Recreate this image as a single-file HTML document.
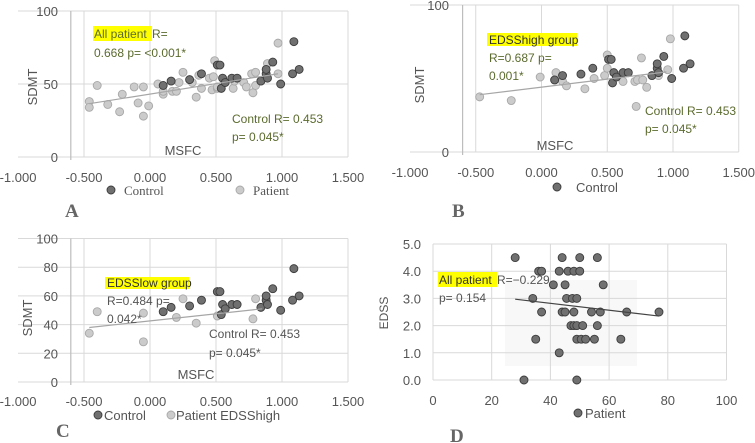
<!DOCTYPE html>
<html><head><meta charset="utf-8"><style>
body{margin:0;background:#fff}
svg{display:block;font-family:"Liberation Sans",sans-serif}
</style></head><body>
<svg id="fig" width="755" height="443" viewBox="0 0 755 443" xmlns="http://www.w3.org/2000/svg"></svg>
<script>
// ---- data ----
const controlX=[0.10,0.16,0.30,0.39,0.51,0.53,0.55,0.54,0.57,0.62,0.66,0.84,0.88,0.88,0.89,0.93,0.99,1.08,1.09,1.13];
const controlY=[49,52,53,57,63,63,54,47,51,54,54,52,57,60,54,65,50,57,79,60];
const patientAX=[-0.46,-0.46,-0.40,-0.32,-0.23,-0.21,-0.12,-0.09,-0.05,-0.05,-0.01,0.06,0.10,0.10,0.17,0.20,0.22,0.25,0.32,0.35,0.37,0.39,0.45,0.47,0.48,0.49,0.51,0.51,0.63,0.64,0.71,0.73,0.77,0.78,0.80,0.80,0.89,0.97,0.97];
const patientAY=[38,34,49,36,31,43,48,37,48,28,35,50,43,45,45,45,51,58,51,41,56,47,54,46,55,66,47,48,47,52,51,48,57,44,58,49,64,57,78];
const patientBX=[-0.47,-0.23,-0.01,0.11,0.10,0.16,0.19,0.33,0.40,0.48,0.50,0.50,0.58,0.62,0.71,0.73,0.76,0.77,0.80,0.72,0.89,0.96,0.98];
const patientBY=[37.5,35,51,54,49,48,45,43,50,52,66,57,52,48,48,49,64,49,44,31,52,56,77];
const patientCX=[-0.46,-0.40,-0.05,-0.05,0.20,0.25,0.35,0.51,0.78,0.80];
const patientCY=[34,49,48,28,45,58,41,46,44,58];
const trendA=[[-0.46,36.5],[0.97,57]];
const trendB=[[-0.47,39],[0.95,54.5]];
const trendC=[[-0.46,38],[0.85,51]];
const patientDX=[28,44,50,56,36,37,43,46,48,50,41,45,58,34,45.5,47.5,49,37,44,45,48,54,57,66,77,47,48,49,51,56,35,49,50.5,52,55,64,43,31,49];
const patientDY=[4.5,4.5,4.5,4.5,4,4,4,4,4,4,3.5,3.5,3.5,3,3,3,3,2.5,2.5,2.5,2.5,2.5,2.5,2.5,2.5,2,2,2,2,2,1.5,1.5,1.5,1.5,1.5,1.5,1,0,0];
const trendD=[[28,2.97],[77,2.35]];
const msfcTicks=["-1.000","-0.500","0.000","0.500","1.000","1.500"];
const msfcTickVals=[-1,-0.5,0,0.5,1,1.5];
// ----
const NS="http://www.w3.org/2000/svg";
const svg=document.getElementById('fig');
function mk(tag,attrs,parent,text){const e=document.createElementNS(NS,tag);for(const k in attrs)e.setAttribute(k,attrs[k]);if(text!==undefined)e.textContent=text;(parent||svg).appendChild(e);return e;}
function grp(name){const g=mk('g',{});return g;}
function txt(g,x,y,s,opts,name){const t=mk('text',Object.assign({x:x,y:y,'font-size':12,fill:'#555'},opts||{}),g,s);return t;}
function dot(g,x,y,dark,name){const c=mk('circle',{cx:x,cy:y,r:4,fill:dark?'#707070':'#cbcbcb',stroke:dark?'#3c3c3c':'#a8a8a8','stroke-width':0.9},g);}

function msfcPanel(cfg){
  const g=grp(cfg.name);
  const sx=v=>cfg.x0+(v+1)*cfg.pxPerUnit;
  const sy=v=>cfg.y0-v*cfg.pyPerUnit;
  cfg.yTicks.forEach(v=>{const l=mk('line',{x1:cfg.x0,x2:sx(1.5),y1:sy(v),y2:sy(v),stroke:'#d9d9d9'},g);
    txt(g,cfg.yLabX,sy(v)+5,String(v),{'text-anchor':'end','font-size':13},'y-tick-label');});
  msfcTickVals.forEach((v,i)=>{if(v>-1){const l=mk('line',{x1:sx(v),x2:sx(v),y1:sy(100),y2:sy(0),stroke:'#d9d9d9'},g);}
    txt(g,sx(v),cfg.tickY,msfcTicks[i],{'text-anchor':'middle','font-size':13},'x-tick-label');});
  const ax=mk('line',{x1:sx(-0.6),x2:sx(-0.6),y1:sy(100),y2:sy(0)+3,stroke:'#bdbdbd','stroke-width':1.2},g);
  cfg.light[0].forEach((v,i)=>dot(g,sx(v),sy(cfg.light[1][i]),false,'patient-point'));
  controlX.forEach((v,i)=>dot(g,sx(v),sy(controlY[i]),true,'control-point'));
  const tl=mk('line',{x1:sx(cfg.trend[0][0]),y1:sy(cfg.trend[0][1]),x2:sx(cfg.trend[1][0]),y2:sy(cfg.trend[1][1]),stroke:'#a6a6a6','stroke-width':1.2},g);
  txt(g,cfg.yTitle[0],cfg.yTitle[1],'SDMT',{'text-anchor':'middle','font-size':13,transform:`rotate(-90 ${cfg.yTitle[0]} ${cfg.yTitle[1]})`},'y-axis-title');
  txt(g,cfg.xTitle[0],cfg.xTitle[1],'MSFC',{'text-anchor':'middle','font-size':13},'x-axis-title');
  return {g,sx,sy};
}
function hl(g,x,y,w,h){const r=mk('rect',{x:x,y:y,width:w,height:h,fill:'#ffff00'},g);}
const olive='#5b6b2e';

// Panel A
let p=msfcPanel({name:'panel-a',x0:18,pxPerUnit:132,y0:157,pyPerUnit:1.46,yTicks:[0,50,100],yLabX:58,tickY:182,light:[patientAX,patientAY],trend:trendA,yTitle:[37,87],xTitle:[183,155]});
hl(p.g,93,26,59,15);
txt(p.g,94,38,'All patient',{fill:olive,'font-size':12},'annotation-title');
txt(p.g,152,38,'R=',{fill:olive,'font-size':12},'annotation-r');
txt(p.g,94,57,'0.668 p= <0.001*',{fill:olive,'font-size':12},'annotation-p');
txt(p.g,232,123,'Control R= 0.453',{fill:olive,'font-size':12},'control-annotation');
txt(p.g,232,141,'p= 0.045*',{fill:olive,'font-size':12},'control-p');
dot(p.g,111,190,true,'legend-control-marker');txt(p.g,124,195,'Control',{'font-family':'Liberation Serif,serif','font-size':13},'legend-control');
dot(p.g,240,190,false,'legend-patient-marker');txt(p.g,253,195,'Patient',{'font-family':'Liberation Serif,serif','font-size':13},'legend-patient');
txt(p.g,65,217,'A',{'font-family':'Liberation Serif,serif','font-size':19,'font-weight':'bold',fill:'#666'},'panel-label');

// Panel B
p=msfcPanel({name:'panel-b',x0:410,pxPerUnit:131.5,y0:152,pyPerUnit:1.47,yTicks:[0,100],yLabX:449,tickY:177,light:[patientBX,patientBY],trend:trendB,yTitle:[424,85],xTitle:[555,150]});
hl(p.g,487,33,90,13);
txt(p.g,489,44,'EDSShigh group',{fill:'#333','font-size':12},'annotation-title');
txt(p.g,489,62,'R=0.687  p=',{fill:olive,'font-size':12},'annotation-r');
txt(p.g,489,80,'0.001*',{fill:olive,'font-size':12},'annotation-p');
txt(p.g,645,115,'Control R= 0.453',{fill:olive,'font-size':12},'control-annotation');
txt(p.g,645,133,'p= 0.045*',{fill:olive,'font-size':12},'control-p');
dot(p.g,557,187,true,'legend-control-marker');txt(p.g,576,192,'Control',{'font-size':13},'legend-control');
txt(p.g,452,217,'B',{'font-family':'Liberation Serif,serif','font-size':19,'font-weight':'bold',fill:'#666'},'panel-label');

// Panel C
p=msfcPanel({name:'panel-c',x0:18,pxPerUnit:132,y0:382,pyPerUnit:1.435,yTicks:[0,20,40,60,80,100],yLabX:58,tickY:406,light:[patientCX,patientCY],trend:trendC,yTitle:[32,318],xTitle:[196,379]});
hl(p.g,105,277,84,12);
txt(p.g,107,287,'EDSSlow group',{fill:'#333','font-size':12},'annotation-title');
txt(p.g,107,305,'R=0.484  p=',{fill:'#555','font-size':12},'annotation-r');
txt(p.g,107,323,'0.042*',{fill:'#555','font-size':12},'annotation-p');
txt(p.g,209,338,'Control R= 0.453',{fill:'#555','font-size':12},'control-annotation');
txt(p.g,209,357,'p= 0.045*',{fill:'#555','font-size':12},'control-p');
dot(p.g,98,415,true,'legend-control-marker');txt(p.g,104,420,'Control',{'font-size':13},'legend-control');
dot(p.g,171,415,false,'legend-patient-marker');txt(p.g,176,420,'Patient EDSShigh',{'font-size':13},'legend-patient');
txt(p.g,56,437,'C',{'font-family':'Liberation Serif,serif','font-size':19,'font-weight':'bold',fill:'#666'},'panel-label');

// Panel D
(function(){
  const g=grp('panel-d');
  const sx=v=>433+v*2.935, sy=v=>380-v*27.2;
  const bg=mk('rect',{x:505,y:280,width:132,height:86,fill:'#f8f8f8'},g);
  [0,1,2,3,4,5].forEach(v=>{const l=mk('line',{x1:sx(0),x2:sx(100),y1:sy(v),y2:sy(v),stroke:'#d9d9d9'},g);
    txt(g,421,sy(v)+5,v.toFixed(1),{'text-anchor':'end','font-size':13},'y-tick-label');});
  [0,20,40,60,80,100].forEach(v=>{const l=mk('line',{x1:sx(v),x2:sx(v),y1:sy(5),y2:sy(0),stroke:'#d9d9d9'},g);
    txt(g,sx(v),405,String(v),{'text-anchor':'middle','font-size':13},'x-tick-label');});
  patientDX.forEach((v,i)=>dot(g,sx(v),sy(patientDY[i]),true,'patient-point'));
  const tl=mk('line',{x1:sx(trendD[0][0]),y1:sy(trendD[0][1]),x2:sx(trendD[1][0]),y2:sy(trendD[1][1]),stroke:'#444','stroke-width':1.2},g);
  hl(g,438,272,59,15);
  txt(g,439,284,'All patient',{fill:'#333','font-size':12},'annotation-title');
  txt(g,497,284,'R=−0.229',{fill:'#555','font-size':12},'annotation-r');
  txt(g,439,302,'p= 0.154',{fill:'#555','font-size':12},'annotation-p');
  txt(g,388,313,'EDSS',{'text-anchor':'middle','font-size':12,transform:'rotate(-90 388 313)'},'y-axis-title');
  dot(g,578,413,true,'legend-patient-marker');txt(g,585,418,'Patient',{'font-size':13},'legend-patient');
  txt(g,450,442,'D',{'font-family':'Liberation Serif,serif','font-size':19,'font-weight':'bold',fill:'#666'},'panel-label');
})();
</script>
</body></html>
